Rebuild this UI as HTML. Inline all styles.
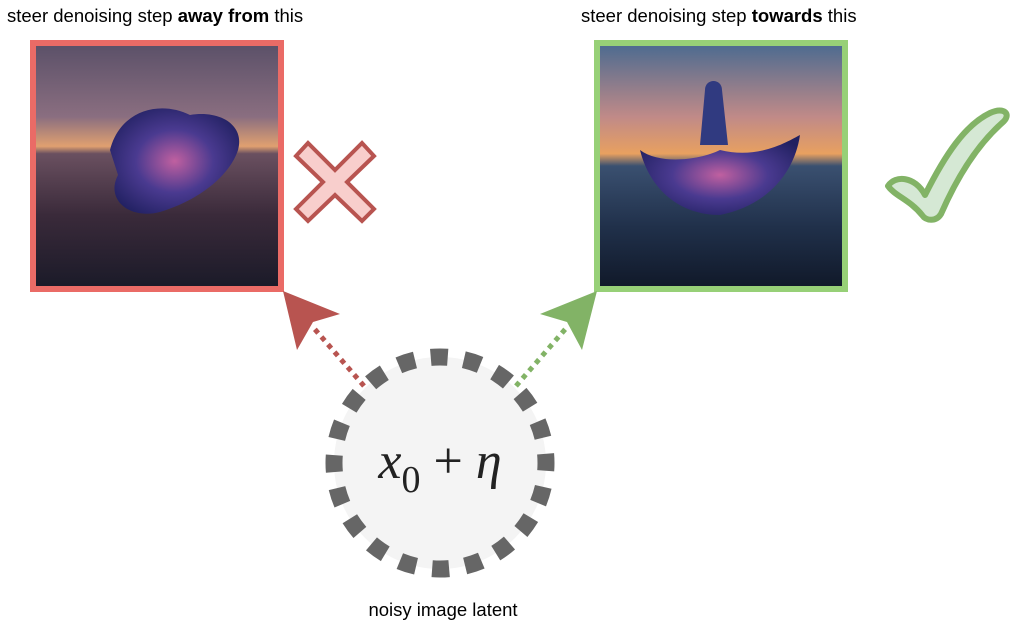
<!DOCTYPE html>
<html><head><meta charset="utf-8"><style>
html,body{margin:0;padding:0;background:#fff;}
svg{display:block;}
.sans{font-family:"Liberation Sans",sans-serif;}
.serif{font-family:"Liberation Serif","DejaVu Serif",serif;}
</style></head><body>
<svg width="1012" height="624" viewBox="0 0 1012 624">
<defs>
<linearGradient id="skyL" x1="0" y1="0" x2="0" y2="1">
<stop offset="0" stop-color="#5a5068"/><stop offset="0.3" stop-color="#8a6e80"/><stop offset="0.42" stop-color="#e0a070"/><stop offset="0.45" stop-color="#6a5060"/><stop offset="0.7" stop-color="#3a2a3a"/><stop offset="1" stop-color="#1a1a28"/>
</linearGradient>
<linearGradient id="skyR" x1="0" y1="0" x2="0" y2="1">
<stop offset="0" stop-color="#4a6a90"/><stop offset="0.3" stop-color="#c08a88"/><stop offset="0.45" stop-color="#e8a060"/><stop offset="0.5" stop-color="#3a5070"/><stop offset="0.75" stop-color="#20304a"/><stop offset="1" stop-color="#101828"/>
</linearGradient>
<radialGradient id="blob" cx="0.5" cy="0.5" r="0.6">
<stop offset="0" stop-color="#c060a0"/><stop offset="0.5" stop-color="#4a3a90"/><stop offset="1" stop-color="#202060"/>
</radialGradient>
</defs>

<text class="sans" x="7" y="22" font-size="18.5" fill="#000">steer denoising step <tspan font-weight="bold">away from</tspan> this</text>
<text class="sans" x="581" y="22" font-size="18.5" fill="#000">steer denoising step <tspan font-weight="bold">towards</tspan> this</text>

<g>
<rect x="33" y="43" width="248" height="246" fill="url(#skyL)"/>
<path d="M110,150 C120,110 160,100 190,115 C220,110 245,125 238,150 C230,175 200,200 160,212 C130,220 105,200 118,175 Z" fill="url(#blob)"/>
<rect x="33" y="43" width="248" height="246" fill="none" stroke="#ea6b66" stroke-width="6"/>
</g>
<g>
<rect x="597" y="43" width="248" height="246" fill="url(#skyR)"/>
<path d="M640,150 C660,165 700,160 720,150 C760,160 790,140 800,135 C795,170 770,205 720,215 C680,215 650,190 640,150 Z" fill="url(#blob)"/>
<path d="M705,90 C705,78 722,78 722,90 L728,145 L700,145 Z" fill="#303a80"/>
<rect x="597" y="43" width="248" height="246" fill="none" stroke="#97d077" stroke-width="6"/>
</g>

<g>
<path d="M296,156 L308,143 L335,170 L362,143 L374,156 L347,182 L374,209 L362,221 L335,195 L308,221 L296,209 L323,182 Z" fill="#f8cecc" stroke="#b85450" stroke-width="4"/>
</g>
<g>
<path d="M888,186 C895,175 915,176 925,195 C945,155 965,125 990,113 C1005,106 1012,115 1002,123 C975,147 955,182 941,214 C936,222 926,221 922,215 C910,200 895,196 888,186 Z" fill="#d5e8d4" stroke="#82b366" stroke-width="6" stroke-linejoin="round"/>
</g>

<g>
<line x1="364" y1="386" x2="312" y2="326" stroke="#b85450" stroke-width="5" stroke-dasharray="5,5"/>
<path d="M283,291 L340,314 L313,322 L297,350 Z" fill="#b85450"/>
</g>
<g>
<line x1="516" y1="386" x2="568" y2="326" stroke="#82b366" stroke-width="5" stroke-dasharray="5,5"/>
<path d="M597,291 L540,314 L567,322 L582,350 Z" fill="#82b366"/>
</g>

<g>
<circle cx="440" cy="463" r="106" fill="#f4f4f4"/>
<circle cx="440" cy="463" r="106" fill="none" stroke="#666" stroke-width="17" stroke-dasharray="17,16.3" transform="rotate(-95 440 463)"/>
<text class="serif" x="440" y="478" text-anchor="middle" font-size="52" fill="#222"><tspan font-style="italic">x</tspan><tspan font-size="38" dy="14">0</tspan><tspan dy="-14"> + </tspan><tspan font-style="italic">η</tspan></text>
</g>
<text class="sans" x="443" y="616" text-anchor="middle" font-size="18.5" fill="#000">noisy image latent</text>
</svg>
</body></html>
